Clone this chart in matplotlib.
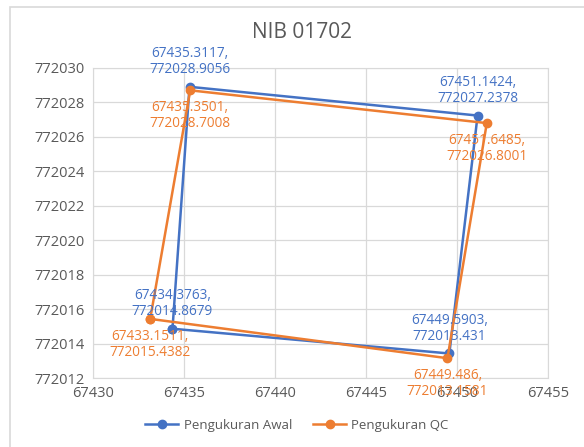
import matplotlib.pyplot as plt
from matplotlib.patches import Rectangle

# survey points (closed polygon), NIB 01702
awal_x = [67434.3763, 67435.3117, 67451.1424, 67449.5903, 67434.3763]
awal_y = [772014.8679, 772028.9056, 772027.2378, 772013.431, 772014.8679]
qc_x = [67433.1511, 67435.3501, 67451.6485, 67449.486, 67433.1511]
qc_y = [772015.4382, 772028.7008, 772026.8001, 772013.1581, 772015.4382]
awal_lbl = ["67434.3763,\n772014.8679", "67435.3117,\n772028.9056",
            "67451.1424,\n772027.2378", "67449.5903,\n772013.431"]
qc_lbl = ["67433.1511,\n772015.4382", "67435.3501,\n772028.7008",
          "67451.6485,\n772026.8001", "67449.486,\n772013.1581"]

BLUE = "#4472C4"
ORANGE = "#ED7D31"
plt.rcParams['font.family'] = ['Open Sans', 'DejaVu Sans']

fig = plt.figure(figsize=(5.84, 4.47), dpi=100)
ax = fig.add_axes([0.159, 0.154, 0.779, 0.694])

# chart border
fig.patches.append(Rectangle((10 / 584, -0.01), 1.0, 1 - 7 / 447 + 0.01,
                             transform=fig.transFigure, fill=False,
                             edgecolor="#D9D9D9", linewidth=1.2))

ax.plot(awal_x, awal_y, color=BLUE, lw=1.8, marker="o", ms=6, label="Pengukuran Awal", zorder=3)
ax.plot(qc_x, qc_y, color=ORANGE, lw=1.8, marker="o", ms=6, label="Pengukuran QC", zorder=3)

for x, y, t in zip(awal_x[:-1], awal_y[:-1], awal_lbl):
    ax.annotate(t, (x, y), xytext=(0, 7), textcoords="offset points",
                ha="center", va="bottom", color=BLUE, fontsize=9.8, linespacing=1.1)
for x, y, t in zip(qc_x[:-1], qc_y[:-1], qc_lbl):
    ax.annotate(t, (x, y), xytext=(0, -7), textcoords="offset points",
                ha="center", va="top", color=ORANGE, fontsize=9.8, linespacing=1.1)

ax.set_xlim(67430, 67455)
ax.set_ylim(772012, 772030)
ax.set_xticks(range(67430, 67456, 5))
ax.set_yticks(range(772012, 772031, 2))
ax.ticklabel_format(useOffset=False, style="plain")
ax.grid(True, color="#D9D9D9", lw=0.9)
ax.set_axisbelow(True)
for s in ax.spines.values():
    s.set_color("#D9D9D9")
ax.tick_params(length=0, labelsize=10.5, labelcolor="#595959", pad=6)

fig.text(302 / 584, 1 - 33 / 447, "NIB 01702", fontsize=15, color="#595959",
         ha="center", va="center")
ax.legend(loc="center", bbox_to_anchor=(297 / 584, 1 - 425 / 447),
          bbox_transform=fig.transFigure, ncol=2, frameon=False,
          fontsize=9.5, labelcolor="#595959", handlelength=2.5,
          handletextpad=0.4, columnspacing=1.6)

fig.savefig("out.png", dpi=100)
